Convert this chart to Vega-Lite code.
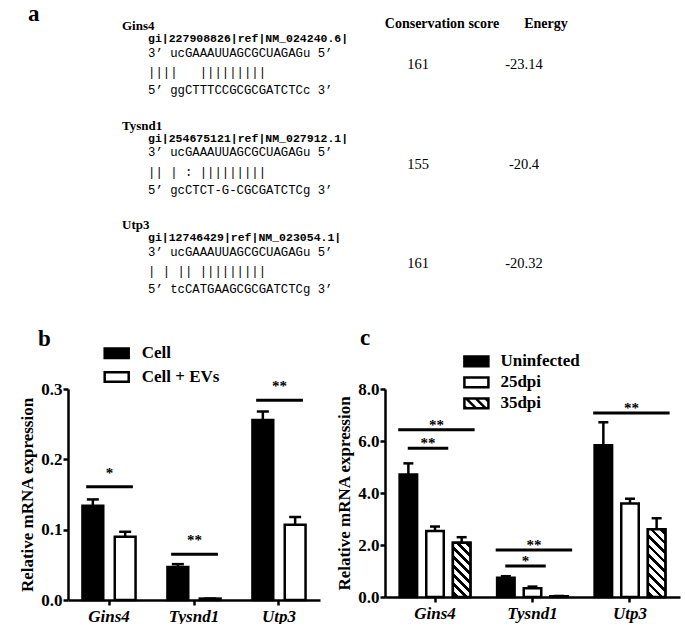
{
  "$schema": "https://vega.github.io/schema/vega-lite/v6.json",
  "background": "white",
  "padding": {"left": 18, "top": 3, "right": 0, "bottom": 0},
  "spacing": 30,
  "resolve": {"scale": {"fill": "independent", "xOffset": "independent", "x": "independent", "y": "independent"}, "legend": {"fill": "independent"}},
  "config": {
    "view": {"stroke": null},
    "font": "Liberation Serif",
    "axis": {
      "domainColor": "black", "domainWidth": 2.5, "tickColor": "black", "tickWidth": 2.5, "tickSize": 5,
      "grid": false, "labelFont": "Liberation Serif", "labelFontWeight": "bold", "labelFontSize": 17,
      "labelColor": "black", "titleFont": "Liberation Serif", "titleFontWeight": "bold", "titleFontSize": 17,
      "titleColor": "black"
    },
    "title": {"font": "Liberation Serif", "fontWeight": "bold", "fontSize": 23, "color": "black", "anchor": "start", "frame": "group", "baseline": "alphabetic", "offset": 0}
  },
  "vconcat": [
    {
      "width": 617,
      "height": 270,
      "title": {"text": "a", "dx": -40, "dy": 13},
      "data": {"values": [
        {"gene": "Gins4", "gi": "gi|227908826|ref|NM_024240.6|", "mirna": "\u00a03\u2019\u00a0ucGAAAUUAGCGCUAGAGu\u00a05\u2019", "pairs": "\u00a0\u00a0\u00a0\u00a0\u00a0\u00a0||||\u00a0\u00a0\u00a0|||||||||", "target": "\u00a05\u2019\u00a0ggCTTTCCGCGCGATCTCc\u00a03\u2019", "score": "161", "energy": "-23.14"},
        {"gene": "Tysnd1", "gi": "gi|254675121|ref|NM_027912.1|", "mirna": "\u00a03\u2019\u00a0ucGAAAUUAGCGCUAGAGu\u00a05\u2019", "pairs": "\u00a0\u00a0\u00a0\u00a0\u00a0\u00a0||\u00a0|\u00a0:\u00a0|||||||||", "target": "\u00a05\u2019\u00a0gcCTCT-G-CGCGATCTCg\u00a03\u2019", "score": "155", "energy": "-20.4"},
        {"gene": "Utp3", "gi": "gi|12746429|ref|NM_023054.1|", "mirna": "\u00a03\u2019\u00a0ucGAAAUUAGCGCUAGAGu\u00a05\u2019", "pairs": "\u00a0\u00a0\u00a0\u00a0\u00a0\u00a0|\u00a0|\u00a0||\u00a0|||||||||", "target": "\u00a05\u2019\u00a0tcCATGAAGCGCGATCTCg\u00a03\u2019", "score": "161", "energy": "-20.32"}
      ]},
      "encoding": {
        "y": {"field": "gene", "type": "nominal", "scale": {"type": "point", "domain": ["Gins4", "Tysnd1", "Utp3"], "range": [13, 212], "padding": 0}, "axis": null}
      },
      "layer": [
        {
          "mark": {"type": "text", "align": "left", "font": "Liberation Serif", "fontWeight": "bold", "fontSize": 13, "dx": -26, "dy": -13, "color": "black"},
          "encoding": {"x": {"datum": "seq", "type": "nominal", "scale": {"type": "point", "domain": ["seq", "score", "energy"], "range": [80, 456], "padding": 0}, "axis": null}, "text": {"field": "gene"}}
        },
        {
          "mark": {"type": "text", "align": "left", "font": "Liberation Mono", "fontWeight": "bold", "fontSize": 11.5, "color": "black"},
          "encoding": {"x": {"datum": "seq", "type": "nominal"}, "text": {"field": "gi"}}
        },
        {
          "mark": {"type": "text", "align": "left", "font": "Liberation Mono", "fontSize": 12.3, "dy": 13.5, "color": "black"},
          "encoding": {"x": {"datum": "seq", "type": "nominal"}, "text": {"field": "mirna"}}
        },
        {
          "mark": {"type": "text", "align": "left", "font": "Liberation Mono", "fontSize": 12.3, "dy": 33, "color": "black"},
          "encoding": {"x": {"datum": "seq", "type": "nominal"}, "text": {"field": "pairs"}}
        },
        {
          "mark": {"type": "text", "align": "left", "font": "Liberation Mono", "fontSize": 12.3, "dy": 51, "color": "black"},
          "encoding": {"x": {"datum": "seq", "type": "nominal"}, "text": {"field": "target"}}
        },
        {
          "mark": {"type": "text", "align": "center", "font": "Liberation Serif", "fontSize": 14.5, "dx": 82, "dy": 26, "color": "black"},
          "encoding": {"x": {"datum": "score", "type": "nominal"}, "text": {"field": "score", "type": "nominal"}}
        },
        {
          "mark": {"type": "text", "align": "center", "font": "Liberation Serif", "fontSize": 14.5, "dy": 26, "color": "black"},
          "encoding": {"x": {"datum": "energy", "type": "nominal"}, "text": {"field": "energy", "type": "nominal"}}
        },
        {
          "data": {"values": [{"h": "Conservation score"}]},
          "mark": {"type": "text", "align": "center", "font": "Liberation Serif", "fontWeight": "bold", "fontSize": 14, "dx": 106, "dy": -15, "color": "black"},
          "encoding": {"x": {"datum": "score", "type": "nominal"}, "y": {"datum": "Gins4", "type": "nominal"}, "text": {"field": "h"}}
        },
        {
          "data": {"values": [{"h": "Energy"}]},
          "mark": {"type": "text", "align": "center", "font": "Liberation Serif", "fontWeight": "bold", "fontSize": 14, "dx": 22, "dy": -15, "color": "black"},
          "encoding": {"x": {"datum": "energy", "type": "nominal"}, "y": {"datum": "Gins4", "type": "nominal"}, "text": {"field": "h"}}
        }
      ]
    },
    {
      "spacing": 15,
      "resolve": {"scale": {"fill": "independent", "xOffset": "independent", "x": "independent", "y": "independent"}, "legend": {"fill": "independent"}},
      "hconcat": [
        {
          "width": 252,
          "height": 211,
          "title": {"text": "b", "dx": -30, "dy": 13},
          "data": {"values": [
            {"gene": "Gins4", "group": "Cell", "mean": 0.134, "upper": 0.143},
            {"gene": "Gins4", "group": "Cell + EVs", "mean": 0.090, "upper": 0.097},
            {"gene": "Tysnd1", "group": "Cell", "mean": 0.047, "upper": 0.051},
            {"gene": "Tysnd1", "group": "Cell + EVs", "mean": 0.002, "upper": 0.002},
            {"gene": "Utp3", "group": "Cell", "mean": 0.256, "upper": 0.268},
            {"gene": "Utp3", "group": "Cell + EVs", "mean": 0.107, "upper": 0.118}
          ]},
          "encoding": {
            "x": {"field": "gene", "type": "nominal", "sort": ["Gins4", "Tysnd1", "Utp3"], "scale": {"paddingInner": 0.375, "paddingOuter": 0.17}, "axis": {"title": null, "labelAngle": 0, "labelFontStyle": "italic", "labelPadding": 3}}
          },
          "layer": [
            {
              "mark": {"type": "bar", "stroke": "black", "strokeWidth": 2.5},
              "encoding": {
                "xOffset": {"field": "group", "type": "nominal", "sort": ["Cell", "Cell + EVs"], "scale": {"domain": ["Cell", "Cell + EVs"], "paddingInner": 0.356, "paddingOuter": 0}},
                "y": {"field": "mean", "type": "quantitative", "scale": {"domain": [0, 0.3]}, "axis": {"values": [0, 0.1, 0.2, 0.3], "format": ".1f", "title": "Relative mRNA expression", "labelPadding": 1, "titlePadding": 4}},
                "fill": {"field": "group", "type": "nominal", "sort": ["Cell", "Cell + EVs"], "scale": {"domain": ["Cell", "Cell + EVs"], "range": ["black", "white"]},
                  "legend": {"title": null, "orient": "none", "legendX": 37.7, "legendY": -46.8, "symbolType": "M-1.25,-0.5H1.25V0.5H-1.25Z", "symbolSize": 369, "symbolStrokeColor": "black", "symbolStrokeWidth": 2.5, "labelFont": "Liberation Serif", "labelFontWeight": "bold", "labelFontSize": 17, "labelColor": "black", "labelOffset": 14, "rowPadding": 2.8, "padding": 0}}
              }
            },
            {
              "mark": {"type": "rule", "strokeWidth": 2.5, "color": "black"},
              "encoding": {
                "xOffset": {"field": "group", "type": "nominal", "sort": ["Cell", "Cell + EVs"]},
                "y": {"field": "mean", "type": "quantitative", "title": "Relative mRNA expression"},
                "y2": {"field": "upper"}
              }
            },
            {
              "mark": {"type": "tick", "thickness": 2.5, "size": 12, "color": "black", "opacity": 1},
              "encoding": {
                "xOffset": {"field": "group", "type": "nominal", "sort": ["Cell", "Cell + EVs"]},
                "y": {"field": "upper", "type": "quantitative", "title": "Relative mRNA expression"}
              }
            },
            {
              "data": {"values": [
                {"gene": "Gins4", "y": 0.161, "label": "*"},
                {"gene": "Tysnd1", "y": 0.065, "label": "**"},
                {"gene": "Utp3", "y": 0.284, "label": "**"}
              ]},
              "layer": [
                {
                  "mark": {"type": "rule", "strokeWidth": 3, "color": "black"},
                  "encoding": {
                    "x": {"field": "gene", "type": "nominal", "sort": ["Gins4", "Tysnd1", "Utp3"], "bandPosition": 0.07},
                    "x2": {"field": "gene", "bandPosition": 0.95},
                    "y": {"field": "y", "type": "quantitative", "title": "Relative mRNA expression"}
                  }
                },
                {
                  "mark": {"type": "text", "font": "Liberation Serif", "fontWeight": "bold", "fontSize": 15, "baseline": "alphabetic", "dy": -9, "color": "black"},
                  "encoding": {
                    "x": {"field": "gene", "type": "nominal", "sort": ["Gins4", "Tysnd1", "Utp3"], "bandPosition": 0.51},
                    "y": {"field": "y", "type": "quantitative", "title": "Relative mRNA expression"},
                    "text": {"field": "label"}
                  }
                }
              ]
            }
          ]
        },
        {
          "width": 295,
          "height": 208,
          "title": {"text": "c", "dx": -25, "dy": 3.5},
          "data": {"values": [
            {"gene": "Gins4", "group": "Uninfected", "mean": 4.71, "upper": 5.14},
            {"gene": "Gins4", "group": "25dpi", "mean": 2.54, "upper": 2.71},
            {"gene": "Gins4", "group": "35dpi", "mean": 2.09, "upper": 2.30},
            {"gene": "Tysnd1", "group": "Uninfected", "mean": 0.74, "upper": 0.80},
            {"gene": "Tysnd1", "group": "25dpi", "mean": 0.34, "upper": 0.40},
            {"gene": "Tysnd1", "group": "35dpi", "mean": 0.03, "upper": 0.04},
            {"gene": "Utp3", "group": "Uninfected", "mean": 5.84, "upper": 6.72},
            {"gene": "Utp3", "group": "25dpi", "mean": 3.60, "upper": 3.78},
            {"gene": "Utp3", "group": "35dpi", "mean": 2.61, "upper": 3.03}
          ]},
          "encoding": {
            "x": {"field": "gene", "type": "nominal", "sort": ["Gins4", "Tysnd1", "Utp3"], "scale": {"paddingInner": 0.274, "paddingOuter": 0.15}, "axis": {"title": null, "labelAngle": 0, "labelFontStyle": "italic", "labelPadding": 3}},
            "xOffset": {"field": "group", "type": "nominal", "sort": ["Uninfected", "25dpi", "35dpi"]}
          },
          "layer": [
            {
              "mark": {"type": "bar", "stroke": "black", "strokeWidth": 2.5},
              "encoding": {
                "xOffset": {"field": "group", "type": "nominal", "sort": ["Uninfected", "25dpi", "35dpi"], "scale": {"domain": ["Uninfected", "25dpi", "35dpi"], "paddingInner": 0.343, "paddingOuter": 0}},
                "y": {"field": "mean", "type": "quantitative", "scale": {"domain": [0, 8]}, "axis": {"values": [0, 2, 4, 6, 8], "format": ".1f", "title": "Relative mRNA expression", "labelPadding": 1, "titlePadding": 4}},
                "fill": {
                  "field": "group", "type": "nominal", "sort": ["Uninfected", "25dpi", "35dpi"],
                  "scale": {"domain": ["Uninfected", "25dpi", "35dpi"], "range": ["black", "white", "white"]},
                  "legend": {
                    "title": null, "orient": "none", "legendX": 80.4, "legendY": -38.6,
                    "symbolType": "M-1.25,-0.5H1.25V0.5H-1.25Z", "symbolSize": 369, "symbolStrokeColor": "black", "symbolStrokeWidth": 2.5,
                    "labelFont": "Liberation Serif", "labelFontWeight": "bold", "labelFontSize": 17, "labelColor": "black", "labelOffset": 13, "rowPadding": 0, "padding": 0,
                    "encode": {"symbols": {"update": {
                      "stroke": {"value": "black"},
                      "strokeWidth": {"value": 2.5},
                      "shape": [
                        {"test": "datum.value === '35dpi'", "value": "M-1.25,-0.5H1.25V0.5H-1.25Z M-1.05,-0.5L-0.05,0.5 M-0.05,-0.5L0.95,0.5 M0.95,-0.5L1.25,-0.2 M-1.25,0.3L-1.05,0.5"},
                        {"value": "M-1.25,-0.5H1.25V0.5H-1.25Z"}
                      ]
                    }}}
                  }
                }
              }
            },
            {
              "transform": [{"filter": "datum.group === '35dpi' && datum.gene !== 'Tysnd1'"}],
              "mark": {"type": "bar", "stroke": "black", "strokeWidth": 2.5},
              "encoding": {
                "y": {"field": "mean", "type": "quantitative", "title": "Relative mRNA expression"},
                "fill": {
                  "condition": [
                    {"test": "datum.gene === 'Gins4'", "value": {"gradient": "linear", "x1": 0, "y1": 1, "x2": 0.386, "y2": -0.1975, "stops": [
                      {"offset": 0, "color": "white"}, {"offset": 0.0375, "color": "white"}, {"offset": 0.0375, "color": "black"}, {"offset": 0.0875, "color": "black"}, {"offset": 0.0875, "color": "white"},
                      {"offset": 0.1625, "color": "white"}, {"offset": 0.1625, "color": "black"}, {"offset": 0.2125, "color": "black"}, {"offset": 0.2125, "color": "white"},
                      {"offset": 0.2875, "color": "white"}, {"offset": 0.2875, "color": "black"}, {"offset": 0.3375, "color": "black"}, {"offset": 0.3375, "color": "white"},
                      {"offset": 0.4125, "color": "white"}, {"offset": 0.4125, "color": "black"}, {"offset": 0.4625, "color": "black"}, {"offset": 0.4625, "color": "white"},
                      {"offset": 0.5375, "color": "white"}, {"offset": 0.5375, "color": "black"}, {"offset": 0.5875, "color": "black"}, {"offset": 0.5875, "color": "white"},
                      {"offset": 0.6625, "color": "white"}, {"offset": 0.6625, "color": "black"}, {"offset": 0.7125, "color": "black"}, {"offset": 0.7125, "color": "white"},
                      {"offset": 0.7875, "color": "white"}, {"offset": 0.7875, "color": "black"}, {"offset": 0.8375, "color": "black"}, {"offset": 0.8375, "color": "white"},
                      {"offset": 0.9125, "color": "white"}, {"offset": 0.9125, "color": "black"}, {"offset": 0.9625, "color": "black"}, {"offset": 0.9625, "color": "white"},
                      {"offset": 1, "color": "white"}
                    ]}}
                  ],
                  "value": {"gradient": "linear", "x1": 0, "y1": 1, "x2": 0.304, "y2": -0.179, "stops": [
                      {"offset": 0, "color": "white"}, {"offset": 0.0333, "color": "white"}, {"offset": 0.0333, "color": "black"}, {"offset": 0.0778, "color": "black"}, {"offset": 0.0778, "color": "white"},
                      {"offset": 0.1444, "color": "white"}, {"offset": 0.1444, "color": "black"}, {"offset": 0.1889, "color": "black"}, {"offset": 0.1889, "color": "white"},
                      {"offset": 0.2556, "color": "white"}, {"offset": 0.2556, "color": "black"}, {"offset": 0.3, "color": "black"}, {"offset": 0.3, "color": "white"},
                      {"offset": 0.3667, "color": "white"}, {"offset": 0.3667, "color": "black"}, {"offset": 0.4111, "color": "black"}, {"offset": 0.4111, "color": "white"},
                      {"offset": 0.4778, "color": "white"}, {"offset": 0.4778, "color": "black"}, {"offset": 0.5222, "color": "black"}, {"offset": 0.5222, "color": "white"},
                      {"offset": 0.5889, "color": "white"}, {"offset": 0.5889, "color": "black"}, {"offset": 0.6333, "color": "black"}, {"offset": 0.6333, "color": "white"},
                      {"offset": 0.7, "color": "white"}, {"offset": 0.7, "color": "black"}, {"offset": 0.7444, "color": "black"}, {"offset": 0.7444, "color": "white"},
                      {"offset": 0.8111, "color": "white"}, {"offset": 0.8111, "color": "black"}, {"offset": 0.8556, "color": "black"}, {"offset": 0.8556, "color": "white"},
                      {"offset": 0.9222, "color": "white"}, {"offset": 0.9222, "color": "black"}, {"offset": 0.9667, "color": "black"}, {"offset": 0.9667, "color": "white"},
                      {"offset": 1, "color": "white"}
                  ]}
                }
              }
            },
            {
              "mark": {"type": "rule", "strokeWidth": 2.5, "color": "black"},
              "encoding": {
                "y": {"field": "mean", "type": "quantitative", "title": "Relative mRNA expression"},
                "y2": {"field": "upper"}
              }
            },
            {
              "mark": {"type": "tick", "thickness": 2.5, "size": 10, "color": "black", "opacity": 1},
              "encoding": {
                "y": {"field": "upper", "type": "quantitative", "title": "Relative mRNA expression"}
              }
            },
            {
              "data": {"values": [
                {"gene": "Gins4", "y": 6.43, "label": "**", "span": "all"},
                {"gene": "Gins4", "y": 5.72, "label": "**", "span": "pair"},
                {"gene": "Tysnd1", "y": 1.81, "label": "**", "span": "all"},
                {"gene": "Tysnd1", "y": 1.19, "label": "*", "span": "pair"},
                {"gene": "Utp3", "y": 7.08, "label": "**", "span": "all"}
              ]},
              "encoding": {"xOffset": null},
              "layer": [
                {
                  "transform": [{"filter": "datum.span === 'all'"}],
                  "mark": {"type": "rule", "strokeWidth": 3, "color": "black"},
                  "encoding": {
                    "x": {"field": "gene", "type": "nominal", "sort": ["Gins4", "Tysnd1", "Utp3"], "bandPosition": -0.02},
                    "x2": {"field": "gene", "bandPosition": 1.06},
                    "y": {"field": "y", "type": "quantitative", "title": "Relative mRNA expression"}
                  }
                },
                {
                  "transform": [{"filter": "datum.span === 'pair'"}],
                  "mark": {"type": "rule", "strokeWidth": 3, "color": "black"},
                  "encoding": {
                    "x": {"field": "gene", "type": "nominal", "sort": ["Gins4", "Tysnd1", "Utp3"], "bandPosition": 0.115},
                    "x2": {"field": "gene", "bandPosition": 0.687},
                    "y": {"field": "y", "type": "quantitative", "title": "Relative mRNA expression"}
                  }
                },
                {
                  "transform": [{"filter": "datum.span === 'all'"}],
                  "mark": {"type": "text", "font": "Liberation Serif", "fontWeight": "bold", "fontSize": 15, "baseline": "alphabetic", "dy": 0, "color": "black"},
                  "encoding": {
                    "x": {"field": "gene", "type": "nominal", "sort": ["Gins4", "Tysnd1", "Utp3"], "bandPosition": 0.52},
                    "y": {"field": "y", "type": "quantitative", "title": "Relative mRNA expression"},
                    "text": {"field": "label"}
                  }
                },
                {
                  "transform": [{"filter": "datum.span === 'pair'"}],
                  "mark": {"type": "text", "font": "Liberation Serif", "fontWeight": "bold", "fontSize": 15, "baseline": "alphabetic", "dy": 0, "color": "black"},
                  "encoding": {
                    "x": {"field": "gene", "type": "nominal", "sort": ["Gins4", "Tysnd1", "Utp3"], "bandPosition": 0.40},
                    "y": {"field": "y", "type": "quantitative", "title": "Relative mRNA expression"},
                    "text": {"field": "label"}
                  }
                }
              ]
            }
          ]
        }
      ]
    }
  ]
}
